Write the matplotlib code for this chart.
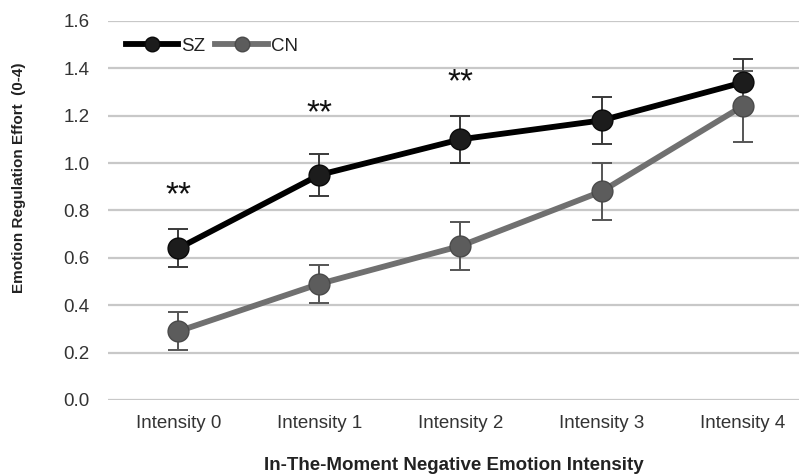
import numpy as np
import matplotlib
matplotlib.use("Agg")
import matplotlib.pyplot as plt

plt.rcParams['font.family'] = ['Liberation Sans', 'DejaVu Sans']

categories = ['Intensity 0', 'Intensity 1', 'Intensity 2', 'Intensity 3', 'Intensity 4']
sz_mean = [0.64, 0.95, 1.10, 1.18, 1.34]
sz_err = [0.08, 0.09, 0.10, 0.10, 0.10]
cn_mean = [0.29, 0.49, 0.65, 0.88, 1.24]
cn_err = [0.08, 0.08, 0.10, 0.12, 0.15]
star_pos = [0, 1, 2]
star_y = [0.86, 1.21, 1.34]
y_ticks = [0.0, 0.2, 0.4, 0.6, 0.8, 1.0, 1.2, 1.4, 1.6]

fig = plt.figure(figsize=(7.99, 4.75), dpi=100)
ax = fig.add_axes([0.135, 0.158, 0.865, 0.798])

x = np.arange(len(categories))

# error bars first, lines on top
ax.errorbar(x, sz_mean, yerr=sz_err, fmt='none', ecolor='#3a3a3a',
            elinewidth=1.4, capsize=7, capthick=1.4, zorder=2)
ax.errorbar(x, cn_mean, yerr=cn_err, fmt='none', ecolor='#555555',
            elinewidth=1.4, capsize=7, capthick=1.4, zorder=2)

ax.plot(x, sz_mean, color='black', lw=4.2, marker='o', ms=15,
        mfc='#1c1c1c', mec='#0a0a0a', label='SZ', zorder=4)
ax.plot(x, cn_mean, color='#707070', lw=4.2, marker='o', ms=15,
        mfc='#5c5c5c', mec='#4a4a4a', label='CN', zorder=3)

for p, yv in zip(star_pos, star_y):
    ax.text(p, yv, '**', ha='center', va='center', fontsize=24, color='#111111')

ax.set_xlim(-0.5, 4.4)
ax.set_ylim(0, 1.6)
ax.set_yticks(y_ticks)
ax.set_yticklabels([f'{t:.1f}' for t in y_ticks], fontsize=13.5, color='#333333')
ax.set_xticks(x)
ax.set_xticklabels(categories, fontsize=13.5, color='#333333')
ax.tick_params(length=0)
ax.tick_params(axis='x', pad=11)
ax.tick_params(axis='y', pad=13)

ax.yaxis.grid(True, color='#c8c8c8', lw=1.6)
ax.set_axisbelow(True)
for s in ax.spines.values():
    s.set_visible(False)

ax.set_ylabel('Emotion Regulation Effort  (0-4)', fontsize=11,
              fontweight='bold', color='#222222')
ax.yaxis.set_label_coords(-0.118, 0.586)
ax.set_xlabel('In-The-Moment Negative Emotion Intensity', fontsize=13.5,
              fontweight='bold', labelpad=18, color='#222222')

leg = ax.legend(loc='upper left', bbox_to_anchor=(0.015, 0.975), ncol=2,
                frameon=False, handlelength=2.8, columnspacing=0.55,
                handletextpad=0.15, fontsize=13.5, markerscale=0.7,
                borderaxespad=0)
for t in leg.get_texts():
    t.set_color('#222222')
for ln in ax.lines:
    ln.set_clip_on(False)

plt.savefig('out.png', dpi=100)
